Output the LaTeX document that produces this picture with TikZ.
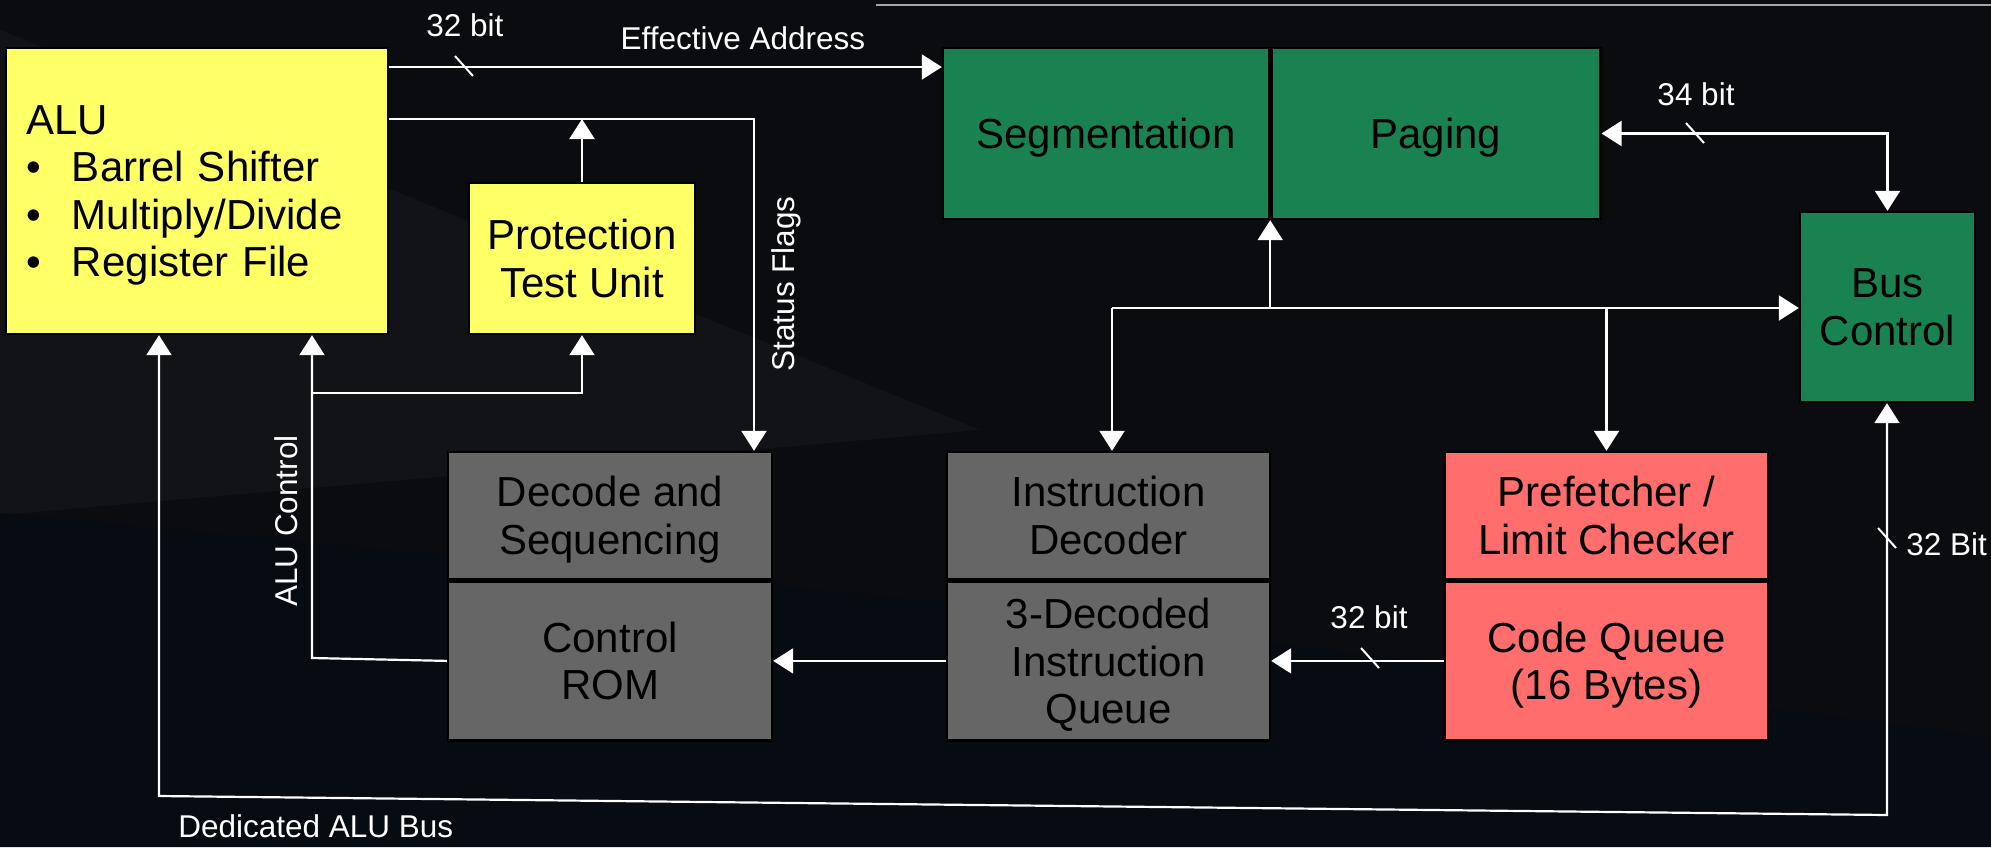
\documentclass[tikz,border=0pt]{standalone}
\usepackage{fontspec}
\setmainfont{Liberation Sans}
\usetikzlibrary{arrows.meta, positioning, calc}
\definecolor{bgdark}{HTML}{0B0C10}
\definecolor{bgwedge}{HTML}{121317}
\definecolor{bgblue}{HTML}{070B12}
\definecolor{aluyellow}{HTML}{FFFF66}
\definecolor{unitgreen}{HTML}{1A8151}
\definecolor{fetchred}{HTML}{FF6D6D}
\definecolor{decgray}{HTML}{666666}
\newcommand{\listdot}{\makebox[23pt][l]{\textbullet}}

\begin{document}
\begin{tikzpicture}[
                x=0.5pt, y=-0.5pt,
                box/.style={draw=black, line width=1.2pt, align=center, inner sep=0pt, text depth=0pt, font=\fontsize{21}{23.75}\selectfont},
                wire/.style={draw=white, line width=1.1pt},
                arr/.style={wire, -{Triangle[length=10pt, width=12.5pt]}},
                biarr/.style={wire, {Triangle[length=10pt, width=12.5pt]}-{Triangle[length=10pt, width=12.5pt]}},
                lbl/.style={text=white, inner sep=0pt, font=\fontsize{15.75}{18}\selectfont},
                tick/.style={draw=white, line width=1pt}
            ]
            % background
            \fill[bgdark] (0,0) rectangle (1991,847);
            \useasboundingbox (0,0) rectangle (1991,847);
            \fill[bgwedge] (0,30) -- (980,430) -- (0,515) -- cycle;
            \fill[bgblue] (0,513) -- (1000,607) -- (1991,737) -- (1991,847) -- (0,847) -- cycle;
            \draw[gray!70, line width=1pt] (876,5) -- (1991,5);

            % units
            \node[box, fill=aluyellow, minimum width=191pt, minimum height=143pt, text width=171pt, text height=15pt, text depth=72pt, align=left] (alu) at (197,191) {ALU\\ \listdot Barrel Shifter\\ \listdot Multiply/Divide\\ \listdot Register File};
            \node[box, fill=aluyellow, minimum width=113pt, minimum height=75.5pt] (ptu) at (582,258.5) {Protection\\Test Unit};
            \node[box, fill=unitgreen, minimum width=163pt, minimum height=85.5pt] (seg) at (1106,133.5) {Segmentation};
            \node[box, fill=unitgreen, minimum width=164.5pt, minimum height=85.5pt, right=0pt of seg] (pag) {Paging};
            \node[box, fill=unitgreen, minimum width=87.5pt, minimum height=95pt] (bus) at (1887.5,307) {Bus\\Control};
            \node[box, fill=decgray, minimum width=162pt, minimum height=63.5pt] (dec) at (610,515.5) {Decode and\\Sequencing};
            \node[box, fill=decgray, minimum width=162pt, minimum height=79.5pt, below=0pt of dec] (rom) {Control\\ROM};
            \node[box, fill=decgray, minimum width=161.5pt, minimum height=63.5pt] (idec) at (1108.5,515.5) {Instruction\\Decoder};
            \node[box, fill=decgray, minimum width=161.5pt, minimum height=79.5pt, below=0pt of idec] (iq) {3-Decoded\\Instruction\\Queue};
            \node[box, fill=fetchred, minimum width=161.5pt, minimum height=63.5pt] (pref) at (1606.5,515.5) {Prefetcher /\\Limit Checker};
            \node[box, fill=fetchred, minimum width=161.5pt, minimum height=79.5pt, below=0pt of pref] (cq) {Code Queue\\(16 Bytes)};

            % junction points
            \coordinate (sf) at (754,119);
            \coordinate (ac) at (312,658);
            \coordinate (acb) at (312,393);
            \coordinate (bj) at (1112,308);
            \coordinate (busl) at (159,796);
            \coordinate (busr) at (1887,815);

            % connectors
            \draw[arr] (alu.east |- 0,67) -- (seg.west |- 0,67);
            \draw[arr] (alu.east |- sf) -| (dec.north -| sf);
            \draw[arr] (ptu.north) -- (ptu.north |- sf);
            \draw[arr] (rom.west) -- (ac) -- (alu.south -| ac);
            \draw[arr] (acb) -| (ptu.south);
            \draw[arr] (iq.west) -- (rom.east);
            \draw[arr] (cq.west) -- (iq.east);
            \draw[arr] (bj) -- (bus.west |- bj);
            \draw[arr] (seg.south east |- bj) -- (seg.south east);
            \draw[arr] (bj) -- (idec.north -| bj);
            \draw[arr] (pref.north |- bj) -- (pref.north);
            \draw[biarr] (pag.east) -| (bus.north);
            \draw[biarr] (alu.south -| busl) -- (busl) -- (busr) -- (bus.south -| busr);

            % width marks
            \foreach \p in {(464,66), (1370,658), (1695,133), (1887,538)}
                \draw[tick] \p ++(-9,-10) -- ++(18,20);

            % labels
            \node[lbl] (ea32) at (465,25) {32 bit};
            \node[lbl] (ealbl) at (743,38) {Effective Address};
            \node[lbl, rotate=90] (sflbl) at (786,284) {Status Flags};
            \node[lbl, rotate=90] (aclbl) at (286,521) {ALU Control};
            \node[lbl] (cq32) at (1369,617) {32 bit};
            \node[lbl] (pg34) at (1696,94) {34 bit};
            \node[lbl, anchor=west] (bus32) at (1906,544) {32 Bit};
            \node[lbl, anchor=base west] (dablbl) at (178,837) {Dedicated ALU Bus};
        \end{tikzpicture}
\end{document}
